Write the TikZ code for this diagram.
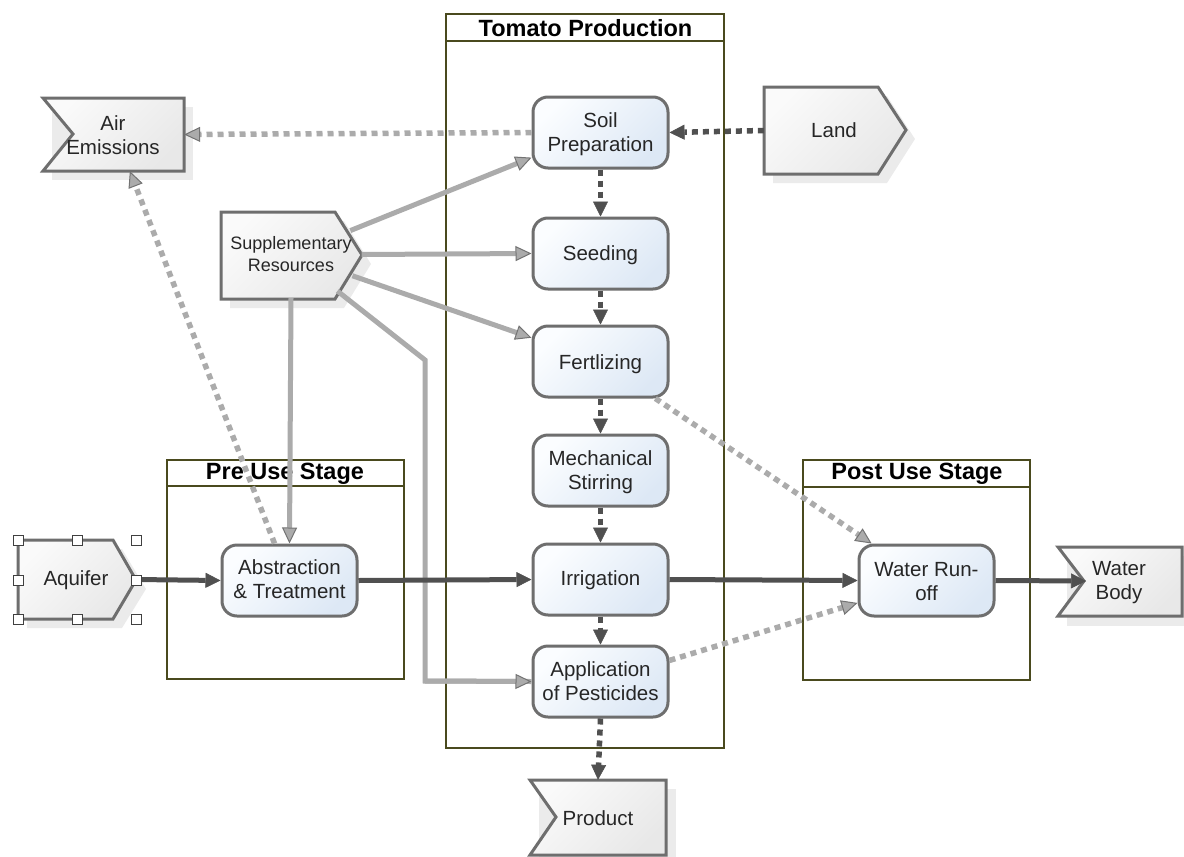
\documentclass[tikz,border=0pt]{standalone}
\usepackage{fontspec}
\setmainfont{Liberation Sans}
\usetikzlibrary{arrows.meta,shadings}
\definecolor{olivebox}{HTML}{4A4A1E}
\definecolor{darkline}{HTML}{505050}
\definecolor{lightline}{HTML}{ABABAB}
\definecolor{shapeline}{HTML}{6E6E6E}
\definecolor{shadowgray}{HTML}{EBEBEB}
\definecolor{BlueTop}{HTML}{FBFDFF}
\definecolor{BlueBot}{HTML}{DDE8F5}
\newcommand{\dnshift}[2]{\raisebox{-#1}[\height][\depth]{\begin{tabular}{@{}c@{}}#2\end{tabular}}}
\tikzset{
  x=1pt,y=-1pt,
  lbl/.style={font=\fontsize{20.5}{24}\selectfont,align=center,text=black!85},
  proc/.style={lbl,draw=shapeline,line width=3pt,rounded corners=15pt,minimum width=135pt,minimum height=71pt,inner sep=0pt,top color=BlueTop,bottom color=BlueBot,shading angle=45},
  port/.style={lbl,inner sep=0pt},
  portshape/.style={draw=shapeline,line width=3pt,top color=white!98!black,bottom color=black!9,shading angle=45},
  shadowshape/.style={fill=shadowgray,draw=none},
  box/.style={draw=olivebox,line width=2.4pt,fill=white},
  boxline/.style={draw=olivebox,line width=2.2pt},
  boxtitle/.style={font=\fontsize{23.5}{26}\selectfont\bfseries,text=black},
  handle/.style={draw=black!75,fill=white,line width=1pt,minimum size=10pt,inner sep=0pt},
  solid dark/.style={draw=darkline,line width=5pt,-{Triangle[length=15pt,width=15pt,fill=darkline,color=darkline,line width=.6pt]}},
  dot dark/.style={draw=darkline,line width=5.5pt,dash pattern=on 6pt off 5pt,-{Triangle[length=15pt,width=15pt,fill=darkline,color=darkline,line width=.6pt]}},
  solid light/.style={draw=lightline,line width=5pt,-{Triangle[length=16pt,width=15pt,fill=lightline,color=black!55,line width=1pt]}},
  dot light/.style={draw=lightline,line width=5.5pt,dash pattern=on 6pt off 5pt,-{Triangle[length=16pt,width=15pt,fill=lightline,color=black!55,line width=1pt]}},
}
\begin{document}
\begin{tikzpicture}
\useasboundingbox (0,0) rectangle (1184,857);
% containers
\draw[box] (446,14) rectangle (724,748);
\draw[boxline] (446,41) -- (724,41);
\node[boxtitle] (ttomato) at (585.5,28) {Tomato Production};
\draw[box] (167,460) rectangle (404,679);
\draw[boxline] (167,486) -- (404,486);
\node[boxtitle] (tpre) at (285,474) {Pre Use Stage};
\draw[box] (803,460) rectangle (1030,680);
\draw[boxline] (803,487) -- (1030,487);
\node[boxtitle] (tpost) at (917,474) {Post Use Stage};
% shadows of ports
\fill[shadowshape] (52,107) -- (193,107) -- (193,180) -- (52,180) -- cycle;
\fill[shadowshape] (230,221) -- (344,221) -- (371,264) -- (344,308) -- (230,308) -- cycle;
\fill[shadowshape] (773,96) -- (887,96) -- (915,139) -- (887,183) -- (773,183) -- cycle;
\fill[shadowshape] (27,549) -- (122,549) -- (146,589) -- (122,628) -- (27,628) -- cycle;
\fill[shadowshape] (1067,556) -- (1184,556) -- (1184,626) -- (1067,626) -- cycle;
\fill[shadowshape] (539,789) -- (676,789) -- (676,857) -- (539,857) -- cycle;
% process nodes
\node[proc] (soil) at (600.5,132.5) {\dnshift{2pt}{Soil\\Preparation}};
\node[proc] (seed) at (600.5,253.5) {\dnshift{2pt}{Seeding}};
\node[proc] (fert) at (600.5,361.5) {\dnshift{3pt}{Fertlizing}};
\node[proc] (mech) at (600.5,470.5) {\dnshift{2pt}{Mechanical\\Stirring}};
\node[proc] (irr) at (600.5,579.5) {\dnshift{1pt}{Irrigation}};
\node[proc] (pest) at (600.5,681.5) {Application\\of Pesticides};
\node[proc] (abs) at (289.5,580.5) {\dnshift{1.5pt}{Abstraction\\\& Treatment}};
\node[proc] (run) at (926.5,580.5) {\dnshift{3pt}{Water Run-\\off}};
% port shapes
\draw[portshape] (43,98) -- (184,98) -- (184,171) -- (43,171) -- (73,134) -- cycle;
\draw[portshape] (221,212) -- (335,212) -- (362,255) -- (335,299) -- (221,299) -- cycle;
\draw[portshape] (764,87) -- (878,87) -- (906,130) -- (878,174) -- (764,174) -- cycle;
\draw[portshape] (18,540) -- (113,540) -- (136,580) -- (113,619) -- (18,619) -- cycle;
\draw[portshape] (1058,547) -- (1182,547) -- (1182,616) -- (1058,616) -- (1084,581) -- cycle;
\draw[portshape] (530,780) -- (666,780) -- (666,855) -- (530,855) -- (556,817) -- cycle;
% port nodes (named, sized as their outlines)
\node[port,minimum width=141pt,minimum height=73pt] (air) at (113.5,134.5) {};
\node[port] (airt) at (113,135) {Air\\Emissions};
\node[port,minimum width=141pt,minimum height=87pt,font=\fontsize{18}{22}\selectfont] (supp) at (291,254.5) {Supplementary\\Resources};
\node[port,minimum width=142pt,minimum height=87pt] (land) at (835,130.5) {};
\node[port] (landt) at (834,130) {Land};
\node[port,minimum width=118pt,minimum height=79pt] (aq) at (77,579.5) {};
\node[port] (aqt) at (76,580) {Aquifer};
\node[port,minimum width=124pt,minimum height=69pt] (wb) at (1120,581.5) {};
\node[port] (wbt) at (1119,583) {Water\\Body};
\node[port,minimum width=136pt,minimum height=75pt] (prod) at (598,817.5) {};
\node[port] (prodt) at (598,818) {Product};
\coordinate (wbnotch) at (1086,581);
\coordinate (b1) at (425,360);
\coordinate (b2) at (425,681);
% connectors
\draw[dot light] (soil.west) -- (air.east);
\draw[dot dark] (land.west) -- (soil.east);
\draw[dot light] (abs.112) -- (air.294);
\draw[solid light,shorten <=64pt] (supp.center) -- (soil.200);
\draw[solid light] (supp.east) -- (seed.west);
\draw[solid light,shorten <=65pt] (supp.center) -- (fert.161);
\draw[solid light,-,shorten <=59pt,line join=miter] (supp.center) -- (b1) -- (b2) -- (pest.west);
\draw[solid light] (b2) -- (pest.west);
\draw[solid light] (supp.south) -- (abs.north);
\draw[dot dark] (soil.south) -- (seed.north);
\draw[dot dark] (seed.south) -- (fert.north);
\draw[dot dark] (fert.south) -- (mech.north);
\draw[dot dark] (mech.south) -- (irr.north);
\draw[dot dark] (irr.south) -- (pest.north);
\draw[dot dark] (pest.south) -- (prod.north);
\draw[solid dark] (aq.east) -- (abs.west);
\draw[solid dark] (abs.east) -- (irr.west);
\draw[solid dark] (irr.east) -- (run.west);
\draw[solid dark] (run.east) -- (wbnotch);
\draw[dot light] (fert.-34) -- (run.146);
\draw[dot light] (pest.17) -- (run.198);
% selection handles
\foreach \n/\px/\py in {h1/18/540,h2/77/540,h3/136/540,h4/18/580,h5/136/580,h6/18/619,h7/77/619,h8/136/619}
  \node[handle] (\n) at (\px,\py) {};
\end{tikzpicture}
\end{document}
